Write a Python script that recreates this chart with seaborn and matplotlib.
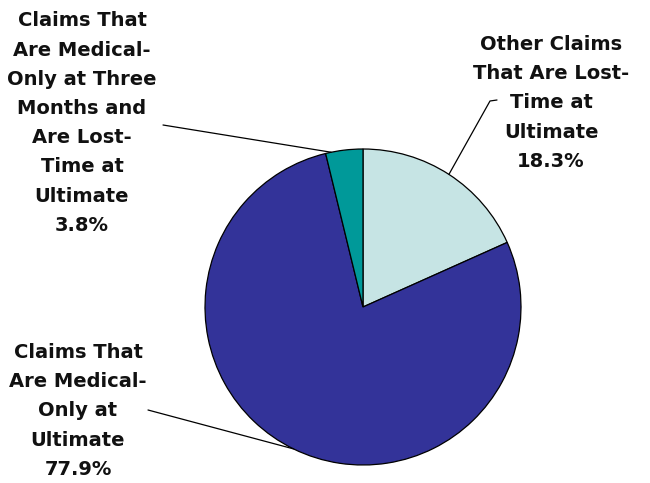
import numpy as np
import matplotlib
matplotlib.use("Agg")
import matplotlib.pyplot as plt
import seaborn as sns

sns.set_style("white")
plt.rcParams['font.family'] = ['DejaVu Sans']

labels = ["Other Claims\nThat Are Lost-\nTime at\nUltimate",
          "Claims That\nAre Medical-\nOnly at\nUltimate",
          "Claims That\nAre Medical-\nOnly at Three\nMonths and\nAre Lost-\nTime at\nUltimate"]
values = [18.3, 77.9, 3.8]
colors = ["#C6E4E4", "#333399", "#009999"]

W, H = 650, 483
fig = plt.figure(figsize=(6.5, 4.83), dpi=100)
ax = fig.add_axes([0, 0, 1, 1])

cx, cy, r = 363, H - 307, 158
wedges, _ = ax.pie(values, colors=colors, startangle=90, counterclock=False,
                   center=(cx, cy), radius=r, frame=True,
                   wedgeprops=dict(edgecolor='black', linewidth=0.9))
ax.set_xlim(0, W)
ax.set_ylim(0, H)
ax.set_aspect('equal')
ax.axis('off')

# label block centers (pixels from top-left) and leader start points
text_pos = [(551, 103), (78, 411), (82, 123)]
leader_start = [[(497, 100), (490, 101)], [(148, 410)], [(163, 125)]]

for i, w in enumerate(wedges):
    ang = np.deg2rad((w.theta1 + w.theta2) / 2)
    if i == 2:
        ang = np.deg2rad(w.theta1 + (w.theta2 - w.theta1) * 0.85)
    ex, ey = cx + r * np.cos(ang), cy + r * np.sin(ang)
    pts = [(x, H - y) for x, y in leader_start[i]] + [(ex, ey)]
    xs, ys = zip(*pts)
    ax.plot(xs, ys, color='black', linewidth=0.9)

for i, (lab, val) in enumerate(zip(labels, values)):
    txt = f"{lab}\n{val:.1f}%"
    tx, ty = text_pos[i]
    ax.text(tx, H - ty, txt, ha='center', va='center', fontsize=14,
            fontweight='bold', linespacing=1.68, color='#111111')

fig.savefig("out.png", dpi=100)
